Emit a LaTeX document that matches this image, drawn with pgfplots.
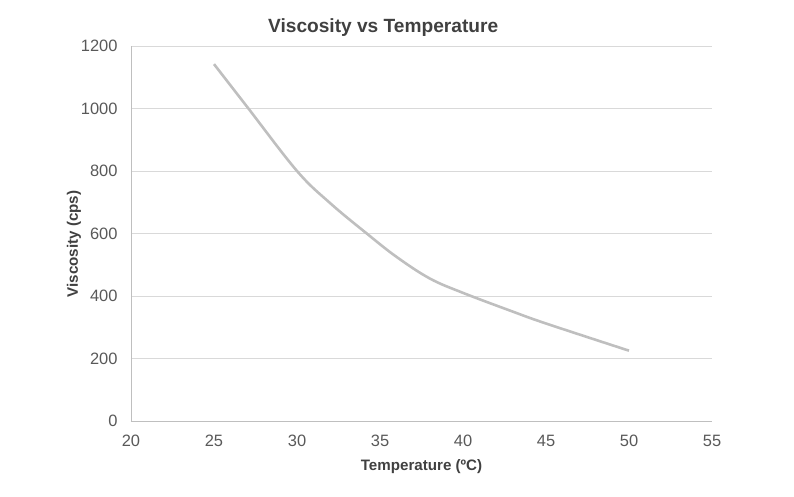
\documentclass[border=0pt]{standalone}
\usepackage{pgfplots}
\pgfplotsset{compat=1.18}
\usepackage{fontspec}
\setmainfont{Liberation Sans}
\definecolor{txt}{HTML}{595959}
\definecolor{lbl}{HTML}{404040}
\definecolor{gridc}{HTML}{D9D9D9}
\definecolor{axc}{HTML}{BFBFBF}
\definecolor{curve}{HTML}{BFBFBF}
\begin{document}
\begin{tikzpicture}[x=1bp,y=1bp]
\useasboundingbox (-131,-76) rectangle (663,421);
\begin{axis}[
  at={(0,0)}, anchor=south west,
  scale only axis, width=581bp, height=375bp,
  xmin=20, xmax=55, ymin=0, ymax=1200,
  xtick={20,25,...,55}, ytick={0,200,...,1200},
  ymajorgrids,
  grid style={color=gridc, line width=0.8bp},
  axis x line*=bottom, axis y line*=left,
  axis line style={-, color=axc, line width=0.9bp},
  major tick length=0pt,
  /pgf/number format/assume math mode=true,
  /pgf/number format/1000 sep={},
  tick label style={font=\fontsize{16.5}{19}\selectfont, color=txt},
  xticklabel style={yshift=-11bp},
  yticklabel style={xshift=-10bp},
  title={Viscosity vs Temperature},
  every axis title/.style={at={(axis description cs:0.434,1.048)}, anchor=center, font=\bfseries\fontsize{19.2}{22}\selectfont, color=lbl},
  xlabel={Temperature (ºC)},
  every axis x label/.style={at={(axis description cs:0.5,-0.122)}, anchor=center, font=\bfseries\fontsize{15.2}{17}\selectfont, color=lbl},
  ylabel={Viscosity (cps)},
  every axis y label/.style={at={(axis description cs:-0.0981,0.472)}, anchor=center, rotate=90, font=\bfseries\fontsize{15.2}{17}\selectfont, color=lbl},
]
\addplot[color=curve, line width=2.6bp, smooth, tension=0.6] coordinates {
  (25,1142) (27,1005) (30,800) (32,697) (34.2,600) (36,525) (38,456) (40,410) (43,350) (45,312) (50,225)
};
\end{axis}
\end{tikzpicture}
\end{document}
